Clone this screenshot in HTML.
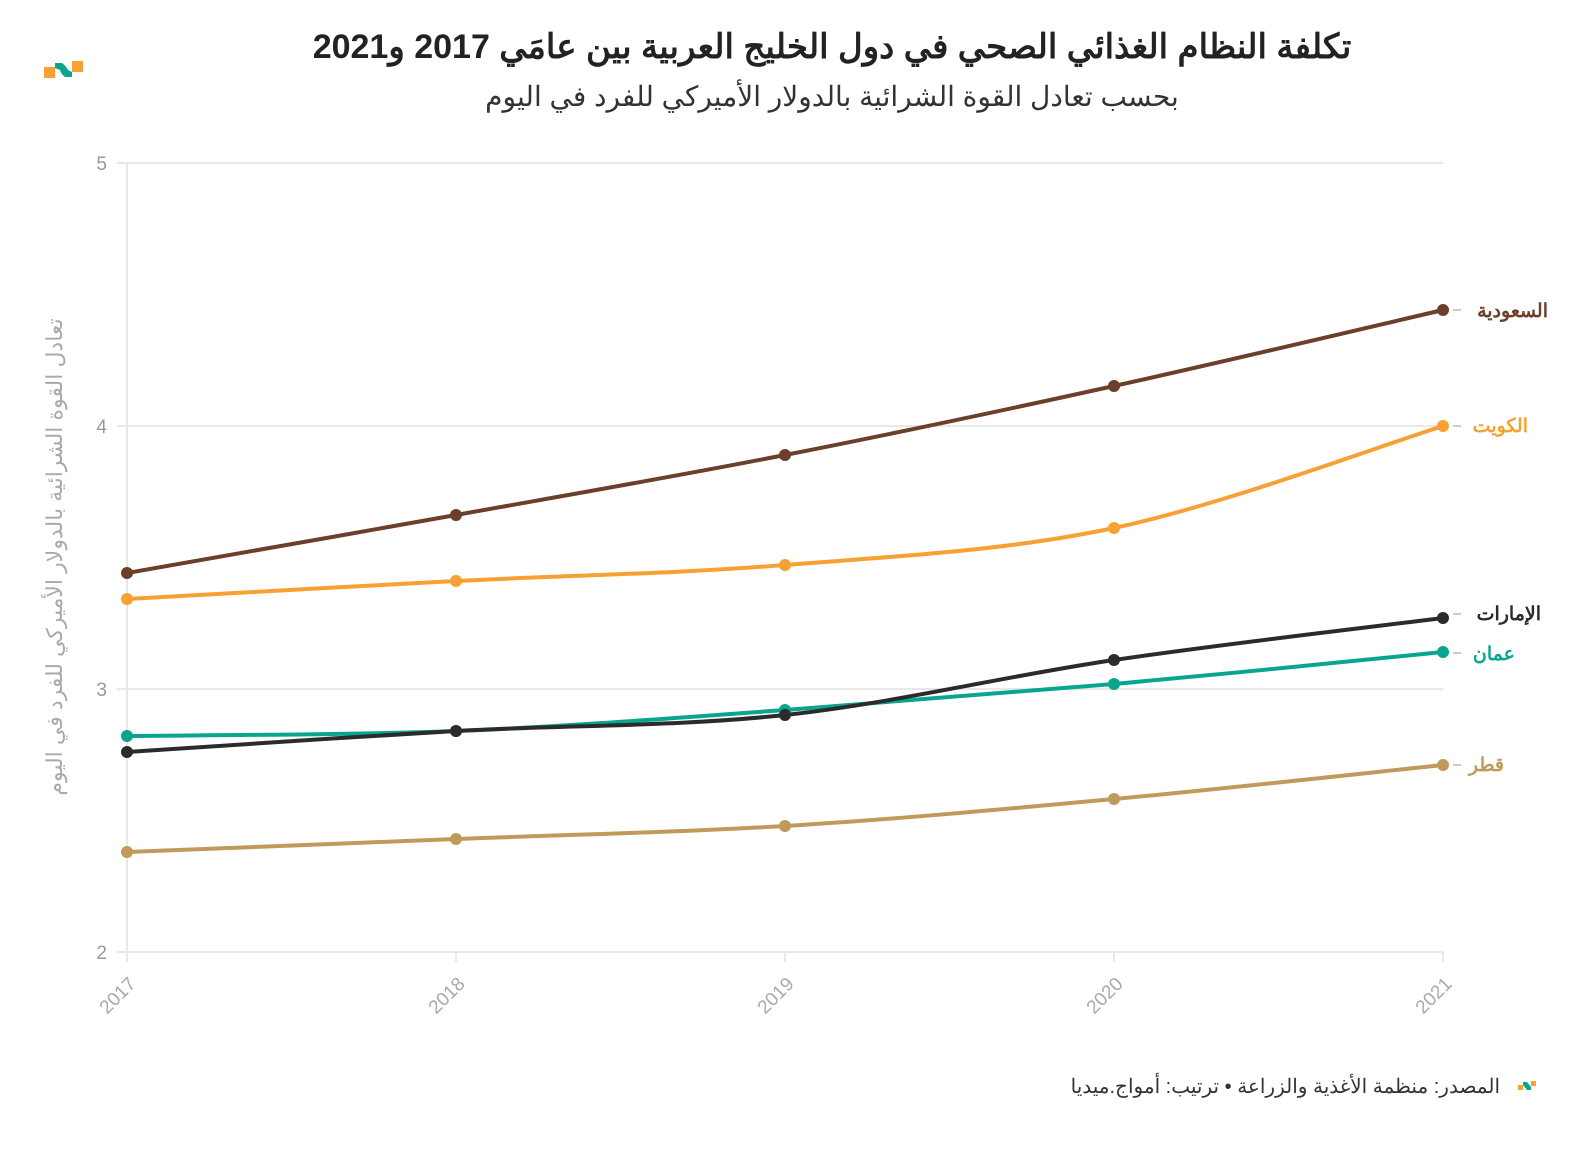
<!DOCTYPE html>
<html><head><meta charset="utf-8"><style>
body{margin:0;background:#fff;width:1592px;height:1150px;overflow:hidden;font-family:"Liberation Sans","Noto Sans CJK SC",sans-serif}
</style></head><body>
<svg id="s" width="1592" height="1150" xmlns="http://www.w3.org/2000/svg" font-family="Liberation Sans, Noto Sans CJK SC, sans-serif">
<rect x="44" y="67" width="11" height="11" fill="#f7a134"/>
<rect x="72" y="61" width="11" height="11" fill="#f7a134"/>
<path d="M55 63 L62 63 Q66 66 68 70 L72 72 L72 77 L65 77 Q61 74 60 70 L55 68 Z" fill="#0aa58f"/>
<text x="832" y="58" text-anchor="middle" font-size="34" font-weight="bold" fill="#222" direction="rtl">تكلفة النظام الغذائي الصحي في دول الخليج العربية بين عامَي 2017 و2021</text>
<text x="832" y="106" text-anchor="middle" font-size="28" fill="#333" direction="rtl">بحسب تعادل القوة الشرائية بالدولار الأميركي للفرد في اليوم</text>
<g stroke="#e8e8e8" stroke-width="2">
<line x1="117" y1="163" x2="1443" y2="163"/><line x1="117" y1="426" x2="1443" y2="426"/>
<line x1="117" y1="689" x2="1443" y2="689"/><line x1="117" y1="952" x2="1443" y2="952"/>
<line x1="127" y1="163" x2="127" y2="962"/>
<line x1="456" y1="952" x2="456" y2="962"/><line x1="785" y1="952" x2="785" y2="962"/>
<line x1="1114" y1="952" x2="1114" y2="962"/><line x1="1443" y1="952" x2="1443" y2="962"/>
</g>
<g font-size="19" fill="#999" text-anchor="end">
<text x="107" y="170">5</text><text x="107" y="433">4</text><text x="107" y="696">3</text><text x="107" y="959">2</text>
</g>
<g font-size="19" fill="#aaa" text-anchor="end">
<text transform="translate(137,985) rotate(-45)">2017</text>
<text transform="translate(466,985) rotate(-45)">2018</text>
<text transform="translate(795,985) rotate(-45)">2019</text>
<text transform="translate(1124,985) rotate(-45)">2020</text>
<text transform="translate(1453,985) rotate(-45)">2021</text>
</g>
<text transform="translate(62,557) rotate(-90)" text-anchor="middle" font-size="22" fill="#aaa" direction="rtl">تعادل القوة الشرائية بالدولار الأميركي للفرد في اليوم</text>
<g id="lines"></g>
<g font-size="19" font-weight="bold" direction="rtl">
<text x="1548" y="317" fill="#6b3f2a">السعودية</text>
<text x="1528" y="432" fill="#f7a134">الكويت</text>
<text x="1541" y="620" fill="#2b2b2b">الإمارات</text>
<text x="1515" y="660" fill="#0aa58f">عمان</text>
<text x="1504" y="771" fill="#c09a5b">قطر</text>
</g>
<g stroke="#bbb" stroke-width="1.5">
<line x1="1453" y1="310" x2="1461" y2="310"/><line x1="1453" y1="426" x2="1461" y2="426"/>
<line x1="1453" y1="614" x2="1461" y2="614"/><line x1="1453" y1="653" x2="1461" y2="653"/>
<line x1="1453" y1="765" x2="1461" y2="765"/>
</g>
<text x="1500" y="1093" font-size="20" fill="#333" direction="rtl">المصدر: منظمة الأغذية والزراعة • ترتيب: أمواج.ميديا</text>
<rect x="1518" y="1085" width="5" height="5" fill="#f7a134"/>
<rect x="1531" y="1081" width="5" height="5" fill="#f7a134"/>
<path d="M1523 1082 L1527 1082 L1531 1087 L1531 1090 L1527 1090 L1523 1085Z" fill="#0aa58f"/>
</svg>
<script>
var xs=[127,456,785,1114,1443];
var S=[
["#6b3f2a",[573,515,455,386,310]],
["#f7a134",[599,581,565,528,426]],
["#0aa58f",[736,731,710,684,652]],
["#2b2b2b",[752,731,715,660,618]],
["#c09a5b",[852,839,826,799,765]]];
var g=document.getElementById('lines'),h='';
S.forEach(function(s){var y=s[1],p=[];for(var i=0;i<5;i++)p.push([xs[i],y[i]]);
var d='M'+p[0][0]+' '+p[0][1];
for(var i=0;i<4;i++){var p0=p[Math.max(i-1,0)],p1=p[i],p2=p[i+1],p3=p[Math.min(i+2,4)];
d+=' C'+(p1[0]+(p2[0]-p0[0])/6)+' '+(p1[1]+(p2[1]-p0[1])/6)+' '+(p2[0]-(p3[0]-p1[0])/6)+' '+(p2[1]-(p3[1]-p1[1])/6)+' '+p2[0]+' '+p2[1];}
h+='<path d="'+d+'" fill="none" stroke="'+s[0]+'" stroke-width="4"/>';
p.forEach(function(q){h+='<circle cx="'+q[0]+'" cy="'+q[1]+'" r="6" fill="'+s[0]+'"/>';});});
g.innerHTML=h;
</script>
</body></html>
